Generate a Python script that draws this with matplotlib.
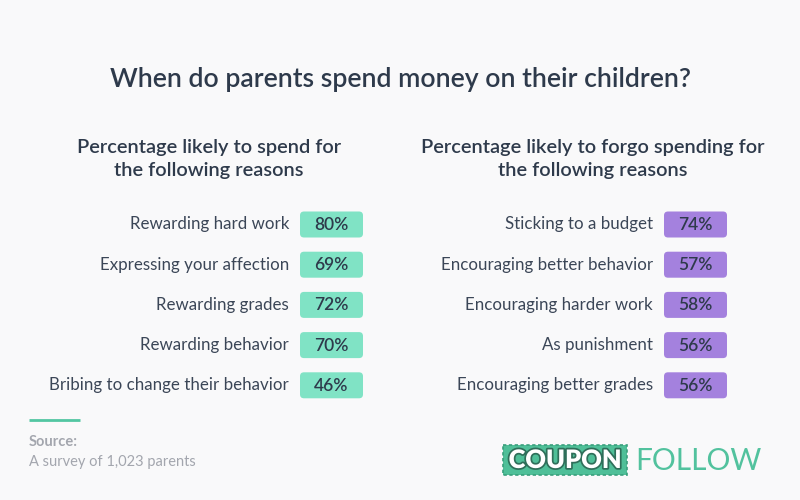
import matplotlib
matplotlib.use("Agg")
import matplotlib.pyplot as plt
from matplotlib.patches import FancyBboxPatch, Rectangle
import matplotlib.patheffects as pe

title = "When do parents spend money on their children?"
left_heading = "Percentage likely to spend for\nthe following reasons"
right_heading = "Percentage likely to forgo spending for\nthe following reasons"
spend_reasons = ["Rewarding hard work", "Expressing your affection", "Rewarding grades",
                 "Rewarding behavior", "Bribing to change their behavior"]
spend_values = [80, 69, 72, 70, 46]
forgo_reasons = ["Sticking to a budget", "Encouraging better behavior", "Encouraging harder work",
                 "As punishment", "Encouraging better grades"]
forgo_values = [74, 57, 58, 56, 56]
source_label = "Source:"
source_text = "A survey of 1,023 parents"

BG = "#f9f9fa"
DARK = "#2e3a4b"
LABEL = "#3b4657"
GREEN = "#80e3c5"
PURPLE = "#a481de"
TEAL = "#52c6a2"
GRAY = "#a3a6ae"
FONT = ["Lato", "DejaVu Sans"]

fig = plt.figure(figsize=(8, 5), dpi=100, facecolor=BG)
ax = fig.add_axes([0, 0, 1, 1])
ax.set_facecolor(BG)
ax.set_xlim(0, 800)
ax.set_ylim(500, 0)
ax.axis("off")

ax.text(400, 79, title, ha="center", va="center", fontsize=19.2, color=DARK,
        family=FONT, fontweight="semibold")
ax.text(209, 159, left_heading, ha="center", va="center", fontsize=14.4, color=DARK,
        family=FONT, fontweight="semibold", linespacing=1.42)
ax.text(593, 159, right_heading, ha="center", va="center", fontsize=14.4, color=DARK,
        family=FONT, fontweight="semibold", linespacing=1.42)

row_y0, row_dy = 224.5, 40.2
bw, bh = 63, 26

def column(reasons, values, label_x, badge_x, color):
    for i, (r, v) in enumerate(zip(reasons, values)):
        y = row_y0 + i * row_dy
        ax.text(label_x, y, r, ha="right", va="center", fontsize=12.2, color=LABEL, family=FONT)
        ax.add_patch(FancyBboxPatch((badge_x, y - bh / 2), bw, bh,
                                    boxstyle="round,pad=0,rounding_size=4",
                                    fc=color, ec="none"))
        ax.text(badge_x + bw / 2, y + 0.5, f"{v}%", ha="center", va="center", fontsize=12.5,
                color=DARK, family=FONT, fontweight="semibold")

column(spend_reasons, spend_values, 289, 300, GREEN)
column(forgo_reasons, forgo_values, 653, 664, PURPLE)

# source
ax.plot([29, 80], [420, 420], color=TEAL, lw=2, solid_capstyle="butt")
ax.text(29, 442, source_label, ha="left", va="center", fontsize=10.5, color=GRAY,
        family=FONT, fontweight="bold")
ax.text(29, 462, source_text, ha="left", va="center", fontsize=10.5, color=GRAY, family=FONT)

# logo
ax.add_patch(Rectangle((503, 445), 124, 30, fc="#4fbf98", ec="#3a9f7c", lw=1.2, ls=(0, (2, 1.5))))
ax.text(565, 461, "COUPON", ha="center", va="center", fontsize=18.3, color="white",
        family=FONT, fontweight="heavy",
        path_effects=[pe.withStroke(linewidth=2.5, foreground="#2f6f5a")])
ax.text(698, 461, "FOLLOW", ha="center", va="center", fontsize=21.5, color="#52c29e",
        family=FONT, fontweight="normal")

fig.savefig("out.png", dpi=100, facecolor=BG)
